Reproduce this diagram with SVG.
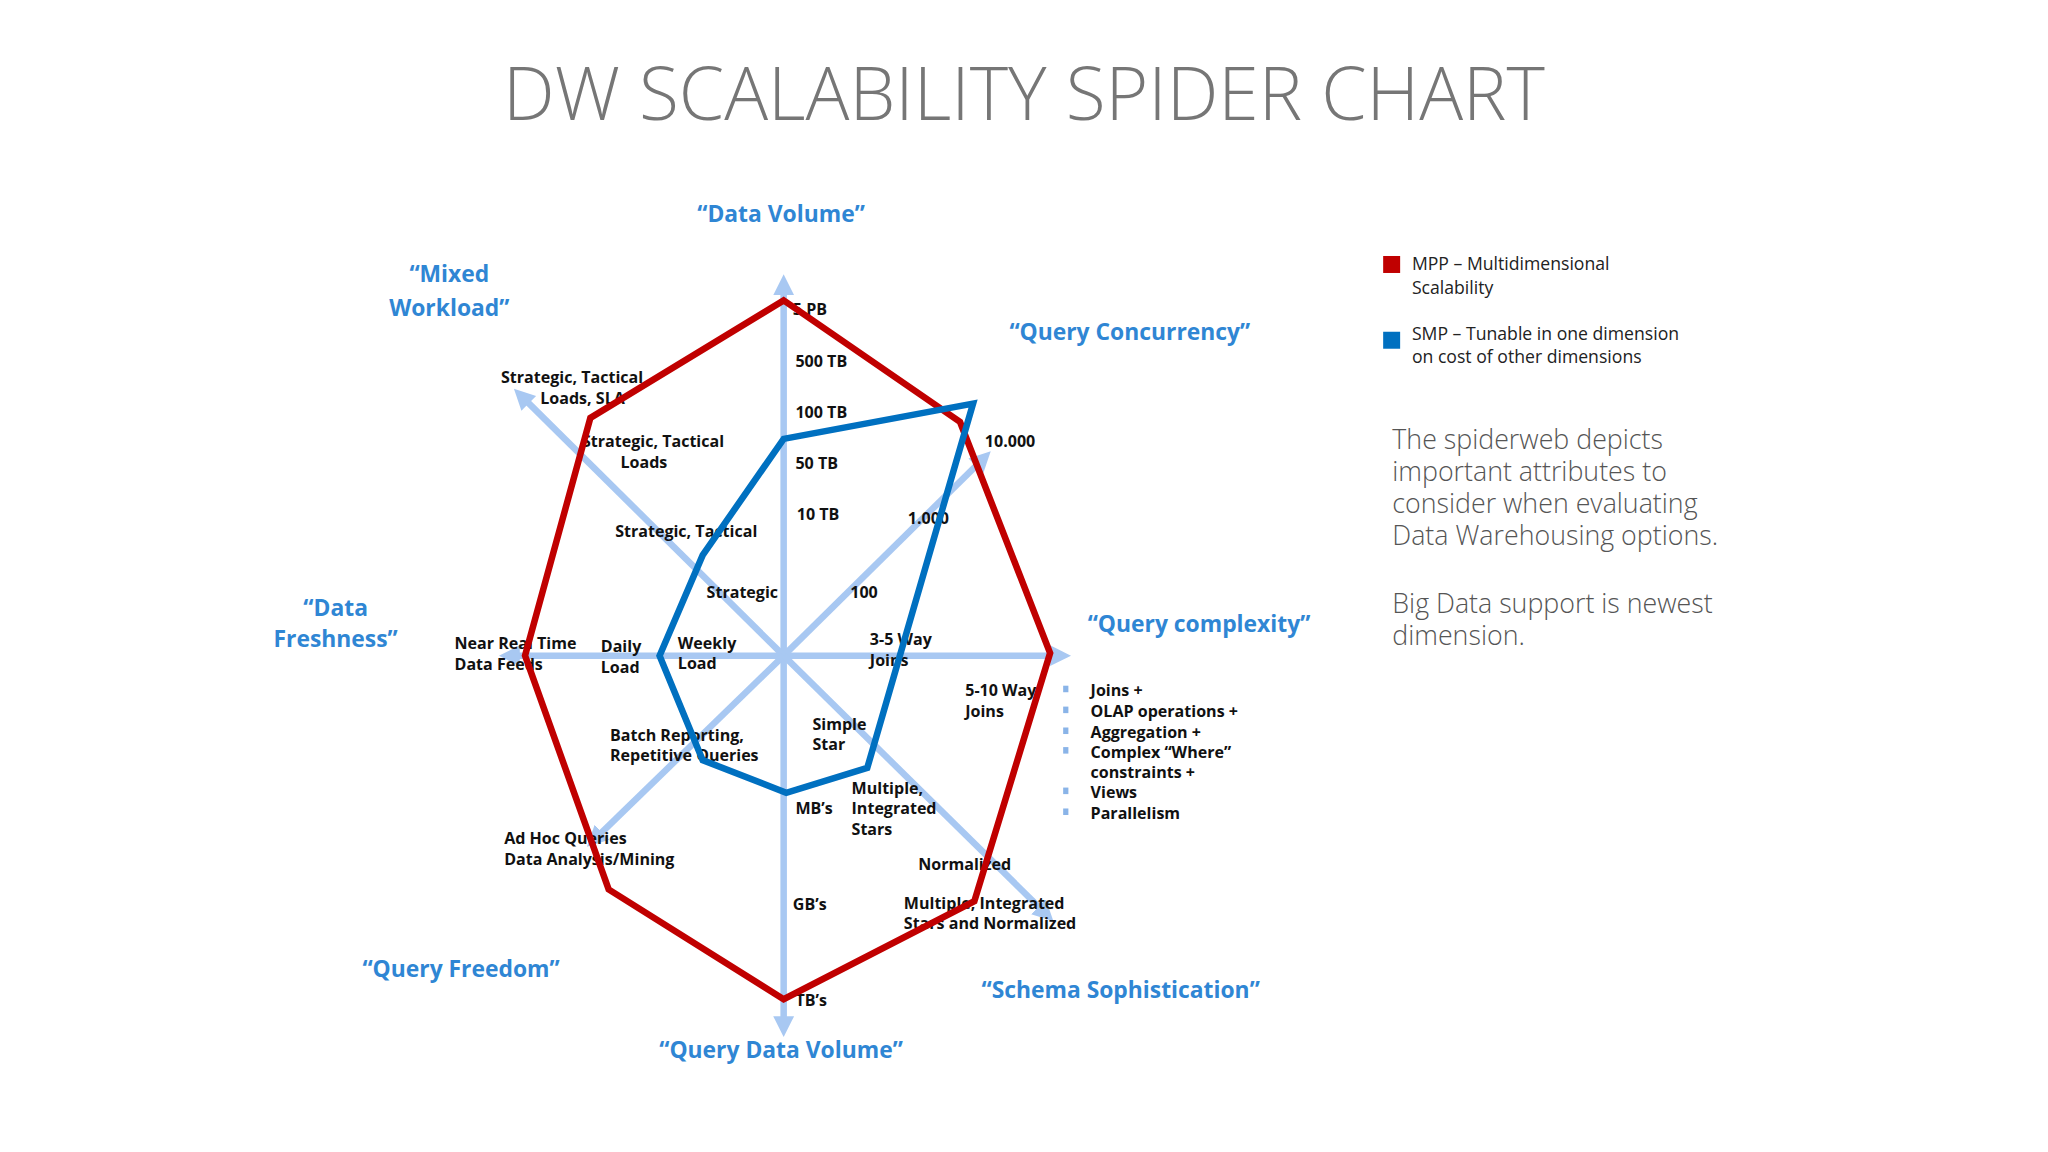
<svg xmlns="http://www.w3.org/2000/svg" width="2048" height="1152" viewBox="0 0 2048 1152">
<style>
.t{font-family:"Open Sans","Liberation Sans",sans-serif;font-weight:300;fill:#767676}
.c{font-family:"Open Sans","Liberation Sans",sans-serif;font-weight:700;fill:#2f86d4;font-size:17.5px;text-anchor:middle}
.l{font-family:"Open Sans","Liberation Sans",sans-serif;font-weight:700;fill:#111;font-size:12.3px}
.m{text-anchor:middle}
.g{font-family:"Open Sans","Liberation Sans",sans-serif;font-weight:400;fill:#222;font-size:13.5px}
.p{font-family:"Open Sans","Liberation Sans",sans-serif;font-weight:300;fill:#555;font-size:20.5px}
.ax{stroke:#a8c8f2;stroke-width:5;fill:none;marker-end:url(#ah)}
.poly{fill:none;stroke-width:5;stroke-linejoin:miter}
</style>
<defs>
<marker id="ah" markerUnits="userSpaceOnUse" markerWidth="20" markerHeight="20" refX="4" refY="8" orient="auto" viewBox="0 0 20 16">
<path d="M0,0 L16,8 L0,16 Z" fill="#a8c8f2"/>
</marker>
</defs>
<rect width="2048" height="1152" fill="#fff"/>
<g transform="scale(1.3061)">
<text class="t" x="784" y="92" font-size="56" text-anchor="middle">DW SCALABILITY SPIDER CHART</text>
<g id="axes">
<line class="ax" x1="600" y1="502" x2="600" y2="222"/>
<line class="ax" x1="600" y1="502" x2="808" y2="502"/>
<line class="ax" x1="600" y1="502" x2="600" y2="782"/>
<line class="ax" x1="600" y1="502" x2="394" y2="502"/>
<line class="ax" x1="600" y1="502" x2="402" y2="306"/>
<line class="ax" x1="600" y1="502" x2="750" y2="354"/>
<line class="ax" x1="600" y1="502" x2="458" y2="640"/>
<line class="ax" x1="600" y1="502" x2="798" y2="697"/>
</g>
<g id="categories">
<text class="c" x="598" y="170">“Data Volume”</text>
<text class="c" x="344" y="216">“Mixed</text>
<text class="c" x="344" y="242">Workload”</text>
<text class="c" x="865" y="260">“Query Concurrency”</text>
<text class="c" x="918" y="484">“Query complexity”</text>
<text class="c" x="257" y="472">“Data</text>
<text class="c" x="257" y="495">Freshness”</text>
<text class="c" x="353" y="748">“Query Freedom”</text>
<text class="c" x="858" y="764">“Schema Sophistication”</text>
<text class="c" x="598" y="810">“Query Data Volume”</text>
</g>
<g id="labels">
<text class="l" x="607" y="241">5 PB</text>
<text class="l" x="609" y="281">500 TB</text>
<text class="l" x="609" y="320">100 TB</text>
<text class="l" x="609" y="359">50 TB</text>
<text class="l" x="610" y="398">10 TB</text>
<text class="l" x="754" y="342">10.000</text>
<text class="l" x="695" y="401">1.000</text>
<text class="l" x="651" y="458">100</text>
<text class="l" x="666" y="494">3-5 Way</text>
<text class="l" x="666" y="510">Joins</text>
<text class="l" x="739" y="533">5-10 Way</text>
<text class="l" x="739" y="549">Joins</text>
<text class="l m" x="438" y="293">Strategic, Tactical</text>
<text class="l m" x="446" y="309">Loads, SLA</text>
<text class="l m" x="500" y="342">Strategic, Tactical</text>
<text class="l m" x="493" y="358">Loads</text>
<text class="l" x="471" y="411">Strategic, Tactical</text>
<text class="l" x="541" y="458">Strategic</text>
<text class="l" x="348" y="497">Near Real Time</text>
<text class="l" x="348" y="513">Data Feeds</text>
<text class="l" x="460" y="499">Daily</text>
<text class="l" x="460" y="515">Load</text>
<text class="l" x="519" y="497">Weekly</text>
<text class="l" x="519" y="512">Load</text>
<text class="l" x="467" y="567">Batch Reporting,</text>
<text class="l" x="467" y="583">Repetitive Queries</text>
<text class="l" x="386" y="646">Ad Hoc Queries</text>
<text class="l" x="386" y="662">Data Analysis/Mining</text>
<text class="l" x="622" y="559">Simple</text>
<text class="l" x="622" y="574">Star</text>
<text class="l" x="609" y="623">MB’s</text>
<text class="l" x="652" y="608">Multiple,</text>
<text class="l" x="652" y="623">Integrated</text>
<text class="l" x="652" y="639">Stars</text>
<text class="l" x="703" y="666">Normalized</text>
<text class="l" x="607" y="697">GB’s</text>
<text class="l" x="692" y="696">Multiple, Integrated</text>
<text class="l" x="692" y="711">Stars and Normalized</text>
<text class="l" x="609" y="770">TB’s</text>
</g>
<g id="bullets">
<g fill="#8ab4e8">
<rect x="814" y="525" width="4" height="5"/>
<rect x="814" y="541" width="4" height="5"/>
<rect x="814" y="557" width="4" height="5"/>
<rect x="814" y="572" width="4" height="5"/>
<rect x="814" y="603" width="4" height="5"/>
<rect x="814" y="619" width="4" height="5"/>
</g>
<text class="l" x="835" y="533">Joins +</text>
<text class="l" x="835" y="549">OLAP operations +</text>
<text class="l" x="835" y="565">Aggregation +</text>
<text class="l" x="835" y="580">Complex “Where”</text>
<text class="l" x="835" y="596">constraints +</text>
<text class="l" x="835" y="611">Views</text>
<text class="l" x="835" y="627">Parallelism</text>
</g>
<g id="mpp">
<polygon class="poly" stroke="#c00000" points="600,230 735,323 804,500 746,690 600,765 466,681 402,502 452,320"/>
</g>
<g id="smp">
<polygon class="poly" stroke="#0070c0" points="600,336 745,309 664,588 602,607 538,582 505,502 538,425"/>
</g>
<g id="legend">
<rect x="1059" y="196" width="13" height="13" fill="#c00000"/>
<text class="g" x="1081" y="207">MPP – Multidimensional</text>
<text class="g" x="1081" y="225">Scalability</text>
<rect x="1059" y="254" width="13" height="13" fill="#0070c0"/>
<text class="g" x="1081" y="260">SMP – Tunable in one dimension</text>
<text class="g" x="1081" y="278">on cost of other dimensions</text>
</g>
<g id="note">
<text class="p" x="1066" y="344">The spiderweb depicts</text>
<text class="p" x="1066" y="368">important attributes to</text>
<text class="p" x="1066" y="393">consider when evaluating</text>
<text class="p" x="1066" y="417">Data Warehousing options.</text>
<text class="p" x="1066" y="469">Big Data support is newest</text>
<text class="p" x="1066" y="494">dimension.</text>
</g>
</g>
</svg>
